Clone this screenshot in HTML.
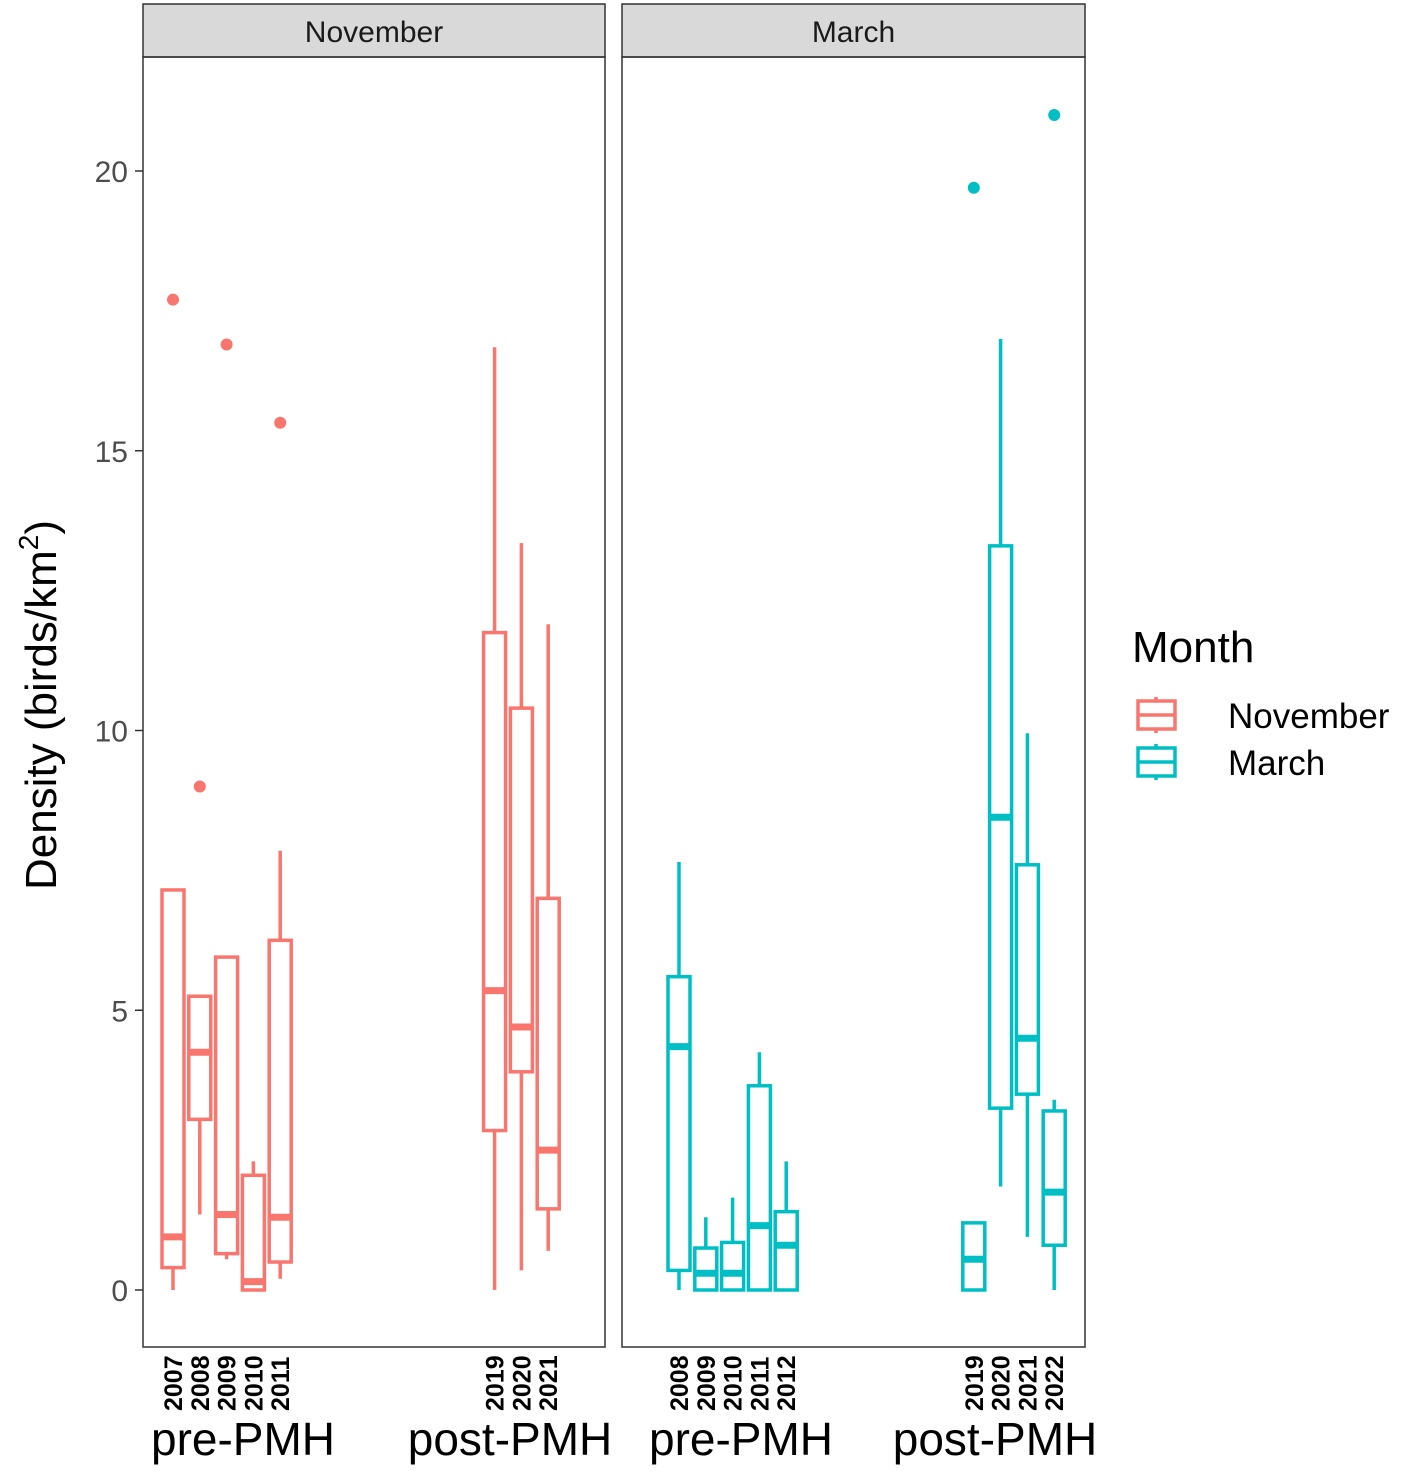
<!DOCTYPE html>
<html><head><meta charset="utf-8"><style>
body{margin:0;background:#fff}
svg text{font-family:"Liberation Sans",sans-serif}
</style></head><body>
<svg id="chart" width="1417" height="1468" viewBox="0 0 1417 1468" xmlns="http://www.w3.org/2000/svg">
<g id="panels"></g>
<g id="marks"></g>
<text transform="translate(56,705) rotate(-90)" text-anchor="middle" font-size="44" fill="#000">Density (birds/km<tspan font-size="28" dy="-18">2</tspan><tspan dy="18">)</tspan></text>
<g>
<text x="1132" y="662" font-size="44">Month</text>
<g>
<line x1="1156" y1="697" x2="1156" y2="733" stroke="#F8766D" stroke-width="3.5"/>
<rect x="1138" y="701" width="37" height="28" fill="#fff" stroke="#F8766D" stroke-width="3.5"/>
<line x1="1138" y1="715" x2="1175" y2="715" stroke="#F8766D" stroke-width="3.5"/>
<text x="1228" y="728" font-size="35">November</text></g>
<g>
<line x1="1156" y1="744" x2="1156" y2="780" stroke="#00BFC4" stroke-width="3.5"/>
<rect x="1138" y="748" width="37" height="28" fill="#fff" stroke="#00BFC4" stroke-width="3.5"/>
<line x1="1138" y1="762" x2="1175" y2="762" stroke="#00BFC4" stroke-width="3.5"/>
<text x="1228" y="775" font-size="35">March</text></g>
</g>
</svg>
<script>
const yTicks=[0,5,10,15,20];
const novYears=[2007,2008,2009,2010,2011,2019,2020,2021];
const novLow=[0.0,1.35,0.55,0.0,0.2,0.0,0.35,0.7];
const novQ1=[0.4,3.05,0.65,0.0,0.5,2.85,3.9,1.45];
const novMed=[0.95,4.25,1.35,0.15,1.3,5.35,4.7,2.5];
const novQ3=[7.15,5.25,5.95,2.05,6.25,11.75,10.4,7.0];
const novHigh=[7.15,5.25,5.95,2.3,7.85,16.85,13.35,11.9];
const novOutYears=[2007,2008,2009,2011];
const novOutVals=[17.7,9.0,16.9,15.5];
const marYears=[2008,2009,2010,2011,2012,2019,2020,2021,2022];
const marLow=[0,0,0,0,0,0,1.85,0.95,0];
const marQ1=[0.35,0,0,0,0,0,3.25,3.5,0.8];
const marMed=[4.35,0.3,0.3,1.15,0.8,0.55,8.45,4.5,1.75];
const marQ3=[5.6,0.75,0.85,3.65,1.4,1.2,13.3,7.6,3.2];
const marHigh=[7.65,1.3,1.65,4.25,2.3,1.2,17.0,9.95,3.4];
const marOutYears=[2019,2022];
const marOutVals=[19.7,21.0];
const NS='http://www.w3.org/2000/svg';
function y(v){return 1290-v*55.95;}
function mk(tag,attrs,parent){const e=document.createElementNS(NS,tag);for(const k in attrs)e.setAttribute(k,attrs[k]);parent.appendChild(e);return e;}
const P=document.getElementById('panels'),M=document.getElementById('marks');
const panels=[{name:'November',x0:143,x1:605,base:2007,px:173,color:'#F8766D',yrs:novYears,lo:novLow,q1:novQ1,md:novMed,q3:novQ3,hi:novHigh,oy:novOutYears,ov:novOutVals,pre:243,post:510},
{name:'March',x0:622,x1:1085,base:2008,px:679,color:'#00BFC4',yrs:marYears,lo:marLow,q1:marQ1,md:marMed,q3:marQ3,hi:marHigh,oy:marOutYears,ov:marOutVals,pre:741,post:995}];
panels.forEach((p,pi)=>{
  const sx=yr=>p.px+(yr-p.base)*26.8;
  const s=mk('rect',{x:p.x0,y:4,width:p.x1-p.x0,height:53,fill:'#d9d9d9',stroke:'#333','stroke-width':1.5},P);
  
  
  const st=mk('text',{x:(p.x0+p.x1)/2,y:42,'font-size':30,'text-anchor':'middle',fill:'#1a1a1a'},P);st.textContent=p.name;
  
  
  const fr=mk('rect',{x:p.x0,y:57,width:p.x1-p.x0,height:1290,fill:'none',stroke:'#333','stroke-width':1.5},P);
  
  
  p.yrs.forEach((yr,i)=>{
    const x=sx(yr);
    const t=mk('text',{transform:`translate(${x+9},1411) rotate(-90)`,'font-size':25,'font-weight':'bold',fill:'#000'},P);t.textContent=yr;
    
    
    const g=mk('g',{stroke:p.color,'stroke-width':3.5,fill:'#fff'},M);
    
    
    mk('line',{x1:x,x2:x,y1:y(p.lo[i]),y2:y(p.hi[i])},g);
    mk('rect',{x:x-11,y:y(p.q3[i]),width:22,height:Math.max(y(p.q1[i])-y(p.q3[i]),0.1)},g);
    mk('line',{x1:x-11,x2:x+11,y1:y(p.md[i]),y2:y(p.md[i]),'stroke-width':7},g);
  });
  p.oy.forEach((yr,i)=>{
    const c=mk('circle',{cx:sx(yr),cy:y(p.ov[i]),r:6,fill:p.color},M);
    
    
  });
  [['pre-PMH',p.pre],['post-PMH',p.post]].forEach(([l,cx])=>{
    const t=mk('text',{x:cx,y:1455,'font-size':46,'text-anchor':'middle',fill:'#000'},P);t.textContent=l;
    
    
  });
  if(pi===0){
    yTicks.forEach(v=>{
      mk('line',{x1:135,x2:143,y1:y(v),y2:y(v),stroke:'#333','stroke-width':1.5},P);
      const t=mk('text',{x:128,y:y(v)+11,'font-size':30,'text-anchor':'end',fill:'#4d4d4d'},P);t.textContent=v;
      
      
    });
  }
});
</script>
</body></html>
